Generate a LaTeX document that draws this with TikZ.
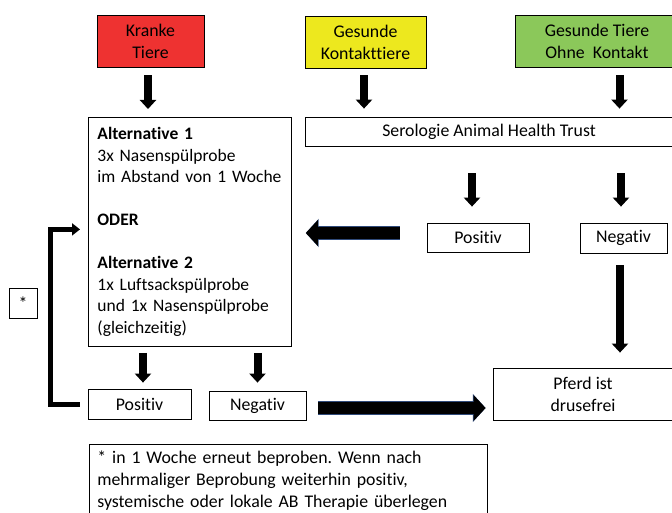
\documentclass[tikz,border=0pt]{standalone}
\usepackage{fontspec}
\setmainfont{Carlito}[Ligatures={NoCommon}]
\usetikzlibrary{arrows.meta}
\frenchspacing

\definecolor{krankred}{HTML}{EE3231}
\definecolor{kontaktyellow}{HTML}{EDE81E}
\definecolor{ohnegreen}{HTML}{8BC85A}
\definecolor{pfeilnavy}{HTML}{2F4A7A}

\tikzset{
  box/.style={draw, line width=0.8pt, inner sep=0pt, align=center,
    font=\fontsize{17.8}{22}\selectfont},
  textbox/.style={box, anchor=north west, align=left, inner xsep=9pt,
    font=\fontsize{17.5}{21.5}\selectfont},
  downarrow/.style={line width=8pt, -{Triangle[width=16pt,length=9pt]}},
  bigarrow/.style={line width=12pt, -{Triangle[width=25pt,length=12pt]},
    preaction={draw=pfeilnavy, line width=13.6pt, -{Triangle[width=27.5pt,length=12.8pt]}}},
  looparrow/.style={line width=5pt, -{Triangle[width=12pt,length=8pt]}},
}

\begin{document}
\begin{tikzpicture}[x=1pt,y=-1pt]
\clip (0,0) rectangle (672,513);

% Tiergruppen
\node[box, fill=krankred, minimum width=107pt, minimum height=52pt]
  (krank) at (150.5,41) {Kranke\\Tiere};
\node[box, fill=kontaktyellow, minimum width=121pt, minimum height=52pt]
  (kontakt) at (365.5,42) {Gesunde\\Kontakttiere};
\node[box, fill=ohnegreen, minimum width=164pt, minimum height=52pt]
  (ohne) at (597,41) {Gesunde Tiere\\Ohne~~Kontakt};

% Probenahme
\node[textbox, text width=185pt, minimum height=229pt] (alt) at (88,117)
  {\textbf{Alternative 1}\\
   3x Nasenspülprobe\\
   im Abstand von 1 Woche\\[21.5pt]
   \textbf{ODER}\\[21.5pt]
   \textbf{Alternative 2}\\
   1x Luftsackspülprobe\\
   und 1x Nasenspülprobe\\
   (gleichzeitig)};
\node[box, minimum width=368pt, minimum height=29pt]
  (sero) at (489,131.5) {Serologie Animal Health Trust};

% Ergebnisse
\node[box, minimum width=102pt, minimum height=29pt] (seropos) at (478,237.5) {Positiv};
\node[box, minimum width=87pt, minimum height=30pt] (seroneg) at (623.5,238) {Negativ};
\node[box, minimum width=103pt, minimum height=30pt] (altpos) at (139.5,404) {Positiv};
\node[box, minimum width=97pt, minimum height=29pt] (altneg) at (257.5,405.5) {Negativ};
\node[box, minimum width=180pt, minimum height=52pt] (frei) at (583,394) {Pferd ist\\drusefrei};

\node[box, minimum width=28pt, minimum height=30pt] (stern) at (23,303) {*};
\node[textbox, inner xsep=8pt, inner ysep=3pt, text width=382pt, text height=16pt,
  text depth=70pt, font=\fontsize{17.8}{22}\selectfont] (fussnote) at (89,444)
  {* in 1 Woche erneut beproben. Wenn nach\\
   mehrmaliger Beprobung weiterhin positiv,\\
   systemische oder lokale AB Therapie überlegen};

% Pfeile
\draw[downarrow, shorten <=8pt, shorten >=8pt]
  ([xshift=-2.5pt]krank.south) -- ([xshift=-2.5pt]krank.south |- alt.north);
\draw[downarrow, shorten <=7pt, shorten >=8pt]
  ([xshift=-1.5pt]kontakt.south) -- ([xshift=-1.5pt]kontakt.south |- sero.north);
\draw[downarrow, shorten <=8pt, shorten >=8pt]
  ([xshift=-4pt]seroneg.north |- ohne.south) -- ([xshift=-4pt]seroneg.north |- sero.north);
\draw[downarrow, shorten <=27pt, shorten >=16pt]
  ([xshift=-6pt]seropos.north |- sero.south) -- ([xshift=-6pt]seropos.north);
\draw[downarrow, shorten <=27pt, shorten >=16pt]
  ([xshift=-2.5pt]seroneg.north |- sero.south) -- ([xshift=-2.5pt]seroneg.north);
\draw[downarrow, shorten <=12pt, shorten >=15pt]
  ([xshift=-3.5pt]seroneg.south) -- ([xshift=-3.5pt]seroneg.south |- frei.north);
\draw[downarrow, shorten <=6pt, shorten >=6pt]
  ([xshift=3.5pt]altpos.north |- alt.south) -- ([xshift=3.5pt]altpos.north);
\draw[downarrow, shorten <=6pt, shorten >=8pt]
  (altneg.north |- alt.south) -- (altneg.north);

\draw[bigarrow, shorten <=27pt, shorten >=14pt]
  ([yshift=4.5pt]seropos.west) -- ([yshift=4.5pt]seropos.west -| alt.east);
\draw[bigarrow, shorten <=12pt, shorten >=7pt]
  ([yshift=-2.5pt]altneg.east) -- ([yshift=-2.5pt]altneg.east -| frei.west);

\coordinate (knick) at (50.5,404);
\draw[looparrow, shorten <=8pt, shorten >=8pt]
  (altpos.west) -- (knick) |- ([yshift=2.5pt]alt.west);
\end{tikzpicture}
\end{document}
